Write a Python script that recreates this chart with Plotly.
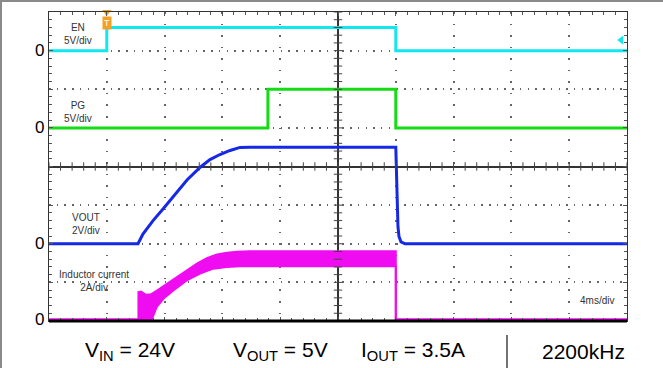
import plotly.graph_objects as go

# screen time in ms, 0 = centre of screen, 4 ms/div
en_t = [-20, -16.0, -16.0, 4.0, 4.0, 20]
en_v = [0, 0, 3.0, 3.0, 0, 0]
en_trig_level = 1.36

pg_t = [-20, -4.85, -4.85, 4.0, 4.0, 20]
pg_v = [0, 0, 5.0, 5.0, 0, 0]

vout_t = [-20, -13.84, -13.50, -12.80, -12.11, -11.42, -10.45, -9.55, -8.86,
          -8.17, -7.47, -6.78, -6.09, 4.0, 4.08, 4.15, 4.22, 4.36, 4.64, 20]
vout_v = [0, 0, 0.50, 1.20, 1.80, 2.42, 3.30, 3.95, 4.36,
          4.62, 4.83, 4.99, 5.0, 5.0, 2.29, 0.88, 0.38, 0.10, 0, 0]

il_top_t = [-20, -13.81, -13.81, -13.63, -13.29, -12.94, -12.53, -11.83, -11.14,
            -10.45, -9.76, -9.07, -8.37, -7.68, -6.99, -6.09, 4.0, 4.0, 20]
il_top = [0, 0, 1.42, 1.45, 1.28, 1.30, 1.50, 1.85, 2.19,
          2.54, 2.89, 3.18, 3.37, 3.46, 3.51, 3.53, 3.53, 0, 0]
il_bot_t = [-20, -12.89, -12.55, -12.09, -11.40, -10.47, -9.55, -8.63, -7.70, -6.78, 4.0, 4.0, 20]
il_bot = [0, 0, 0.64, 1.07, 1.50, 2.02, 2.37, 2.63, 2.71, 2.75, 2.75, 0, 0]

# channel position (div) and scale (unit/div)
channels = {
    "EN": (3.0, 5.0),
    "PG": (1.0, 5.0),
    "VOUT": (-2.0, 2.0),
    "IL": (-3.96, 2.0),
}

X_RANGE = [-20, 20]
Y_RANGE = [-4, 4]

W, H = 663, 368
ML, MR, MT, MB = 49, 36, 12, 47
PW = W - ML - MR
PH = H - MT - MB


def fx(p):
    return (p - ML) / PW


def fy(p):
    return (H - MB - p) / PH


def to_div(vals, ch):
    off, scale = channels[ch]
    return [off + v / scale for v in vals]


fig = go.Figure()

fig.add_trace(go.Scatter(x=en_t, y=to_div(en_v, "EN"), mode="lines",
                         line=dict(color="#12e6ee", width=3)))
fig.add_trace(go.Scatter(x=pg_t, y=to_div(pg_v, "PG"), mode="lines",
                         line=dict(color="#14dc14", width=3)))
fig.add_trace(go.Scatter(x=il_top_t, y=to_div(il_top, "IL"), mode="lines",
                         line=dict(color="#f00cf0", width=2)))
fig.add_trace(go.Scatter(x=il_bot_t, y=to_div(il_bot, "IL"), mode="lines",
                         line=dict(color="#f00cf0", width=2),
                         fill="tonexty", fillcolor="#f00cf0"))
fig.add_trace(go.Scatter(x=vout_t, y=to_div(vout_v, "VOUT"), mode="lines",
                         line=dict(color="#1428e6", width=3)))

# centre graticule ticks
minor_x = [X_RANGE[0] + 0.8 * i for i in range(51)]
minor_y = [Y_RANGE[0] + 0.2 * i for i in range(41)]
fig.add_trace(go.Scatter(x=minor_x, y=[0] * len(minor_x), mode="markers",
                         marker=dict(symbol="line-ns", size=6,
                                     line=dict(color="#444", width=1))))
fig.add_trace(go.Scatter(x=[0] * len(minor_y), y=minor_y, mode="markers",
                         marker=dict(symbol="line-ew", size=6,
                                     line=dict(color="#444", width=1))))

# trigger marker and trigger level
fig.add_trace(go.Scatter(x=[en_t[1]], y=[Y_RANGE[1]], mode="markers",
                         marker=dict(symbol="triangle-down", size=8, color="#f5a020"),
                         cliponaxis=False))
fig.add_trace(go.Scatter(x=[X_RANGE[1] - 0.4], y=to_div([en_trig_level], "EN"), mode="markers",
                         marker=dict(symbol="triangle-left", size=8, color="#12e6ee"),
                         cliponaxis=False))

annotations = []
annotations.append(dict(x=en_t[1], y=fy(23), xref="x", yref="paper", text="T",
                        showarrow=False, bgcolor="#f5a020", borderpad=1,
                        xanchor="center", yanchor="middle",
                        font=dict(size=9, color="white", family="Liberation Sans")))

# zero markers on the left
for ch in channels:
    annotations.append(dict(x=0, y=channels[ch][0], xref="paper", yref="y",
                            text="0", showarrow=False, xanchor="right", xshift=-3,
                            yanchor="middle",
                            font=dict(size=17, color="black", family="Liberation Sans")))

labels = [
    ("EN<br>5V/div", 78, 34),
    ("PG<br>5V/div", 78, 112),
    ("VOUT<br>2V/div", 86, 224),
    ("Inductor current<br>2A/div", 94, 281),
    ("4ms/div", 597, 300),
]
for txt, px, py in labels:
    annotations.append(dict(x=fx(px), y=fy(py), xref="paper", yref="paper", text=txt,
                            showarrow=False, xanchor="center", yanchor="middle",
                            font=dict(size=10, color="#333", family="Liberation Sans")))

bottom = [
    ("V<sub>IN</sub> = 24V", 130),
    ("V<sub>OUT</sub> = 5V", 280),
    ("I<sub>OUT</sub> = 3.5A", 413),
    ("2200kHz", 583),
]
for txt, px in bottom:
    annotations.append(dict(x=fx(px), y=fy(351), xref="paper", yref="paper", text=txt,
                            showarrow=False, xanchor="center", yanchor="middle",
                            font=dict(size=21, color="black", family="Liberation Sans")))

shapes = [
    dict(type="line", xref="paper", yref="paper", x0=0, x1=1, y0=0, y1=0,
         line=dict(color="black", width=3)),
    dict(type="line", xref="paper", yref="paper", x0=fx(507), x1=fx(507),
         y0=fy(335), y1=fy(368), line=dict(color="#444", width=1.5)),
    dict(type="line", xref="paper", yref="paper", x0=fx(0), x1=fx(W),
         y0=fy(1), y1=fy(1), line=dict(color="#8a8a8a", width=2)),
    dict(type="line", xref="paper", yref="paper", x0=fx(1), x1=fx(1),
         y0=fy(0), y1=fy(H), line=dict(color="#8a8a8a", width=2)),
]

axis_common = dict(showticklabels=False, showline=True, linecolor="#333", linewidth=1,
                   mirror="allticks", ticks="inside", ticklen=4, tickcolor="#555",
                   zeroline=True, zerolinecolor="#333", zerolinewidth=1.5,
                   showgrid=True, gridcolor="#666", gridwidth=1.5)

fig.update_layout(
    width=W, height=H,
    margin=dict(l=ML, r=MR, t=MT, b=MB),
    paper_bgcolor="white", plot_bgcolor="white",
    showlegend=False,
    xaxis=dict(range=X_RANGE, dtick=4, tick0=0, griddash="1.5px,10.06px",
               minor=dict(dtick=0.8, ticks="inside", ticklen=3, tickcolor="#555", showgrid=False),
               **axis_common),
    yaxis=dict(range=Y_RANGE, dtick=1, tick0=0, griddash="1.5px,6.22px",
               minor=dict(dtick=0.2, ticks="inside", ticklen=3, tickcolor="#555", showgrid=False),
               **axis_common),
    annotations=annotations,
    shapes=shapes,
)

fig.write_html("out.html", config={"displayModeBar": False},
               post_script="document.body.style.margin='0';")
